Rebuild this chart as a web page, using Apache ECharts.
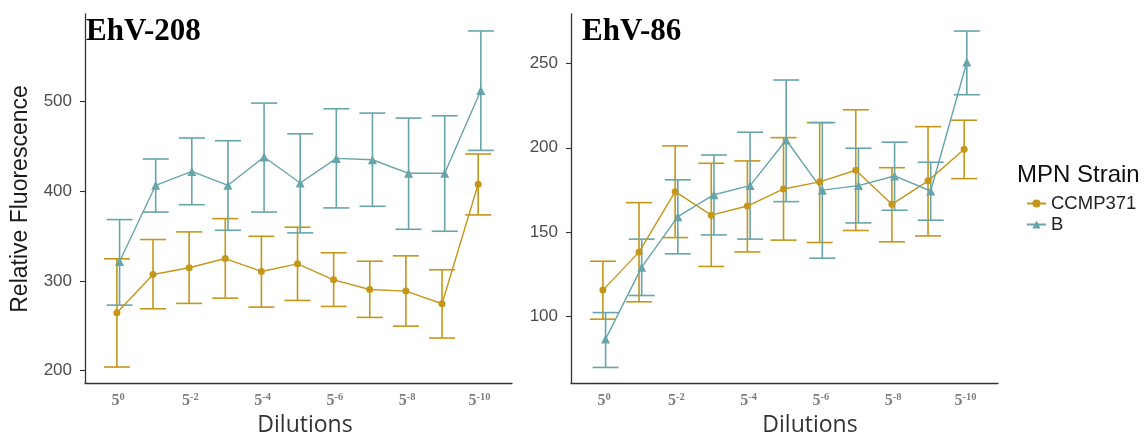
<!DOCTYPE html>
<html>
<head>
<meta charset="utf-8">
<title>MPN dilution fluorescence</title>
<script src="https://cdn.jsdelivr.net/npm/echarts@6/dist/echarts.min.js"></script>
<style>
  html, body { margin: 0; padding: 0; background: #ffffff; }
  #chart { width: 1147px; height: 437px; }
</style>
</head>
<body>
<div id="chart"></div>
<script>
// Dilution steps 5^0 ... 5^-10 (index = negative exponent)
const dilutionSteps = [0, 1, 2, 3, 4, 5, 6, 7, 8, 9, 10];
const dilutionTicks = [0, 2, 4, 6, 8, 10];
const strains = ['CCMP371', 'B'];

// EhV-208 panel: mean and error-bar bounds
const ehv208_ccmp371_mean  = [264.6, 307.2, 314.7, 325.0, 310.6, 319.1, 301.3, 290.5, 288.7, 274.6, 407.7];
const ehv208_ccmp371_upper = [324.7, 346.2, 354.7, 369.5, 349.8, 359.9, 331.4, 322.0, 328.0, 312.5, 441.5];
const ehv208_ccmp371_lower = [204.1, 269.0, 275.0, 280.9, 270.9, 278.3, 271.6, 259.4, 249.7, 236.4, 373.6];
const ehv208_b_mean  = [321.7, 406.6, 422.1, 406.6, 438.1, 409.2, 436.6, 435.1, 420.0, 420.0, 512.2];
const ehv208_b_upper = [368.4, 435.9, 459.3, 456.3, 498.2, 464.0, 491.9, 487.1, 481.5, 484.1, 578.6];
const ehv208_b_lower = [273.1, 376.8, 385.0, 356.5, 376.8, 353.6, 381.4, 383.2, 357.6, 355.4, 445.5];

// EhV-86 panel
const ehv86_ccmp371_mean  = [115.7, 138.2, 174.0, 160.1, 165.5, 175.6, 179.8, 186.7, 166.5, 180.4, 199.1];
const ehv86_ccmp371_upper = [132.8, 167.5, 201.1, 190.8, 192.2, 206.0, 214.9, 222.5, 188.2, 212.5, 216.3];
const ehv86_ccmp371_lower = [98.5, 108.8, 146.8, 129.7, 138.3, 145.3, 143.9, 151.0, 144.3, 147.8, 181.7];
const ehv86_b_mean  = [86.7, 129.3, 159.2, 172.2, 177.6, 204.6, 174.9, 177.6, 183.3, 174.4, 250.8];
const ehv86_b_upper = [102.4, 145.9, 181.0, 195.7, 209.2, 240.1, 214.9, 199.7, 203.3, 191.4, 269.1];
const ehv86_b_lower = [69.9, 112.5, 137.2, 148.4, 145.9, 168.1, 134.6, 155.5, 163.0, 157.1, 231.4];

// Y tick labels per panel
const ehv208_yTicks = [200, 300, 400, 500];
const ehv86_yTicks = [100, 150, 200, 250];

const COLOR_CCMP = '#C4961A';
const COLOR_B = '#67A5AA';
const DODGE = 0.037;   // small horizontal dodge between the two strains

const chart = echarts.init(document.getElementById('chart'), null, { renderer: 'canvas' });

function pointData(mean, shift) {
  return dilutionSteps.map((s, i) => [s + shift, mean[i]]);
}
function errData(lower, upper, shift) {
  return dilutionSteps.map((s, i) => [s + shift, lower[i], upper[i]]);
}
function errorBarRenderer(color) {
  return function (params, api) {
    const x = api.value(0);
    const lo = api.coord([x, api.value(1)]);
    const hi = api.coord([x, api.value(2)]);
    const hw = 13;
    const style = { stroke: color, lineWidth: 1.6 };
    return {
      type: 'group',
      children: [
        { type: 'line', shape: { x1: lo[0], y1: lo[1], x2: hi[0], y2: hi[1] }, style: style },
        { type: 'line', shape: { x1: lo[0] - hw, y1: lo[1], x2: lo[0] + hw, y2: lo[1] }, style: style },
        { type: 'line', shape: { x1: hi[0] - hw, y1: hi[1], x2: hi[0] + hw, y2: hi[1] }, style: style }
      ]
    };
  };
}

const xLabelRich = {
  b: { fontFamily: 'Liberation Serif', fontWeight: 'bold', fontSize: 16, color: '#7f7f7f', lineHeight: 17 },
  s: { fontFamily: 'Liberation Serif', fontWeight: 'bold', fontSize: 10.5, color: '#7f7f7f', verticalAlign: 'top', lineHeight: 10 }
};

function xAxisFor(gridIndex) {
  return {
    type: 'value', gridIndex: gridIndex, min: -0.92, max: 10.9,
    axisLine: { show: true, onZero: false, lineStyle: { color: '#333333', width: 1.3 } },
    axisTick: { show: false },
    splitLine: { show: false },
    axisLabel: {
      customValues: dilutionTicks,
      margin: 9,
      formatter: v => '{b|5}{s|' + (v === 0 ? '0' : '-' + v) + '}',
      rich: xLabelRich
    }
  };
}
function yAxisFor(gridIndex, min, max, ticks) {
  return {
    type: 'value', gridIndex: gridIndex, min: min, max: max,
    axisLine: { show: true, onZero: false, lineStyle: { color: '#333333', width: 1.3 } },
    axisTick: { show: true, customValues: ticks, length: 5, lineStyle: { color: '#333333', width: 1.1 } },
    splitLine: { show: false },
    axisLabel: {
      customValues: ticks, margin: 13,
      fontFamily: 'Liberation Sans', fontSize: 17, color: '#4d4d4d'
    }
  };
}
function lineSeries(name, mean, shift, color, symbol, size, gi) {
  return {
    type: 'line', name: name, xAxisIndex: gi, yAxisIndex: gi, z: 5,
    data: pointData(mean, shift),
    symbol: symbol, symbolSize: size,
    itemStyle: { color: color },
    lineStyle: { color: color, width: 1.4 },
    emphasis: { disabled: true }
  };
}
function errSeries(name, lower, upper, shift, color, gi) {
  return {
    type: 'custom', name: name + ' error', xAxisIndex: gi, yAxisIndex: gi, z: 3,
    data: errData(lower, upper, shift),
    encode: { x: 0, y: [1, 2] },
    renderItem: errorBarRenderer(color),
    silent: true
  };
}

const option = {
  animation: false,
  backgroundColor: '#ffffff',
  grid: [
    { left: 85, top: 14, width: 427, height: 369 },
    { left: 571, top: 14, width: 427, height: 369 }
  ],
  xAxis: [xAxisFor(0), xAxisFor(1)],
  yAxis: [
    yAxisFor(0, 186.3, 597.5, ehv208_yTicks),
    yAxisFor(1, 60.7, 279.2, ehv86_yTicks)
  ],
  legend: {
    data: strains,
    orient: 'vertical', left: 1021, top: 189,
    itemWidth: 19, itemHeight: 10, itemGap: 2,
    textStyle: { fontFamily: 'Liberation Sans', fontSize: 18.5, color: '#222222' },
    selectedMode: false
  },
  graphic: [
    { type: 'text', left: 86, top: 16, style: { text: 'EhV-208', font: 'bold 31px "Liberation Serif"', fill: '#000000' } },
    { type: 'text', left: 582, top: 16, style: { text: 'EhV-86', font: 'bold 31px "Liberation Serif"', fill: '#000000' } },
    { type: 'text', x: 21, y: 199, rotation: Math.PI / 2,
      style: { text: 'Relative Fluorescence', font: '23px "Liberation Sans"', fill: '#1a1a1a', align: 'center', verticalAlign: 'middle' } },
    { type: 'text', x: 305, y: 425,
      style: { text: 'Dilutions', font: '23px "Open Sans"', fill: '#333333', align: 'center', verticalAlign: 'middle' } },
    { type: 'text', x: 810, y: 425,
      style: { text: 'Dilutions', font: '23px "Open Sans"', fill: '#333333', align: 'center', verticalAlign: 'middle' } },
    { type: 'text', x: 1017, y: 175,
      style: { text: 'MPN Strain', font: '24px "Liberation Sans"', fill: '#111111', align: 'left', verticalAlign: 'middle' } }
  ],
  series: [
    lineSeries('CCMP371', ehv208_ccmp371_mean, -DODGE, COLOR_CCMP, 'circle', 7, 0),
    lineSeries('B', ehv208_b_mean, DODGE, COLOR_B, 'triangle', 9, 0),
    lineSeries('CCMP371', ehv86_ccmp371_mean, -DODGE, COLOR_CCMP, 'circle', 7, 1),
    lineSeries('B', ehv86_b_mean, DODGE, COLOR_B, 'triangle', 9, 1),
    errSeries('CCMP371', ehv208_ccmp371_lower, ehv208_ccmp371_upper, -DODGE, COLOR_CCMP, 0),
    errSeries('B', ehv208_b_lower, ehv208_b_upper, DODGE, COLOR_B, 0),
    errSeries('CCMP371', ehv86_ccmp371_lower, ehv86_ccmp371_upper, -DODGE, COLOR_CCMP, 1),
    errSeries('B', ehv86_b_lower, ehv86_b_upper, DODGE, COLOR_B, 1)
  ]
};

chart.setOption(option);
</script>
</body>
</html>
